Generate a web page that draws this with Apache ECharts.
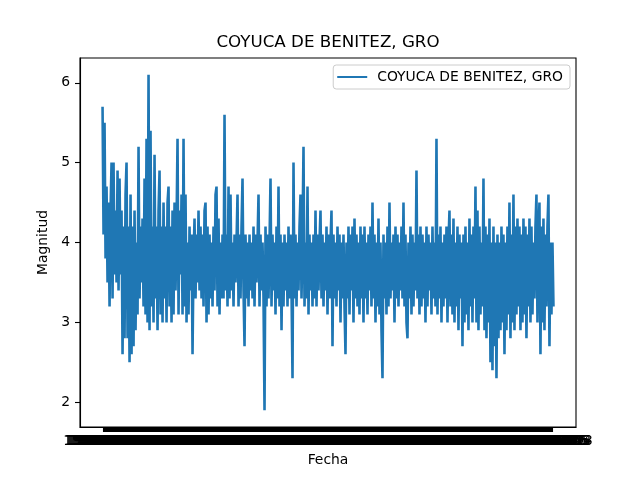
<!DOCTYPE html>
<html>
<head>
<meta charset="utf-8">
<script src="https://cdn.jsdelivr.net/npm/echarts@6/dist/echarts.min.js"></script>
<style>
  html, body { margin: 0; padding: 0; background: #fff; }
  #chart { width: 640px; height: 480px; }
</style>
</head>
<body>
<div id="chart"></div>
<script>
const titulo = 'COYUCA DE BENITEZ, GRO';

// magnitudes, en orden de fecha
const magnitudes = [
  5.7,4.1,5.5,3.8,4.7,3.5,4.5,3.2,4.4,5.0,3.3,5.0,3.6,4.4,3.5,4.9,3.4,4.8,3.6,4.4,
  2.6,4.2,2.8,4.6,5.0,2.8,4.2,2.5,4.6,2.6,4.2,2.7,4.4,2.9,4.0,3.1,5.2,3.3,4.2,3.5,
  4.3,3.2,4.8,3.1,5.3,3.0,6.1,2.9,5.4,3.2,4.2,3.0,5.1,3.3,4.2,2.9,4.4,4.9,3.1,4.2,
  3.0,4.5,3.3,4.2,3.0,4.5,4.7,3.2,4.2,3.0,4.4,3.1,4.5,3.4,4.2,5.3,3.1,4.4,3.6,4.6,
  3.1,5.3,3.2,4.6,3.0,4.0,3.1,4.2,3.4,4.1,2.6,3.8,4.3,3.3,4.1,3.5,4.4,3.4,4.2,3.3,
  4.1,3.2,4.4,4.5,3.0,4.2,3.1,4.1,3.3,4.0,3.2,4.2,3.4,4.6,4.7,3.2,4.3,3.1,4.0,3.3,
  4.1,3.3,5.6,3.4,4.1,3.2,4.7,3.3,4.6,3.4,4.0,3.2,4.1,3.5,4.0,4.6,3.2,4.1,3.3,4.2,
  4.8,3.4,2.7,4.1,3.3,4.0,3.2,4.1,3.4,4.0,3.3,4.2,3.2,4.1,3.5,4.0,4.6,3.2,4.1,3.4,
  4.0,3.3,1.9,4.2,3.2,4.1,3.3,4.0,4.8,3.2,4.1,3.4,4.0,3.1,4.2,3.3,4.7,3.2,4.1,2.9,
  4.0,3.2,4.1,3.4,4.0,3.2,4.2,3.3,4.1,3.4,2.3,5.0,3.3,4.1,3.2,4.0,3.4,4.2,4.6,3.3,
  4.1,5.2,3.2,4.0,3.3,4.7,3.1,4.1,3.4,4.0,3.2,4.1,3.3,4.4,3.2,4.1,3.4,4.0,4.4,3.3,
  4.1,3.2,4.0,3.4,4.2,3.1,4.1,3.3,4.0,4.4,2.7,4.1,3.3,4.0,3.2,4.2,3.4,4.1,3.0,4.0,
  3.3,4.1,3.2,2.6,4.0,3.3,4.2,3.1,4.1,3.4,4.2,3.0,4.3,3.3,4.1,3.2,4.0,3.1,4.2,3.3,
  4.1,3.0,4.2,3.3,4.0,3.1,4.1,3.4,4.2,3.2,4.5,3.3,4.1,3.0,4.0,3.2,4.3,3.1,4.0,2.9,
  2.3,4.1,3.3,4.0,3.1,4.2,3.2,4.5,3.3,4.0,3.4,4.1,3.0,4.2,3.3,4.1,3.2,4.0,3.4,4.2,
  3.3,4.5,3.2,4.1,3.0,2.8,4.0,3.3,4.2,3.1,4.1,3.2,4.0,3.4,4.9,3.3,4.1,3.1,4.2,3.2,
  4.1,3.3,4.0,3.0,4.2,3.2,4.1,3.4,4.0,3.1,4.2,3.3,4.0,3.2,5.3,3.1,4.1,3.3,4.2,3.0,
  4.0,3.2,4.1,3.3,4.2,3.0,4.0,4.4,3.2,4.1,3.1,4.3,3.0,4.0,3.2,4.2,2.9,4.1,3.3,4.0,
  2.7,4.1,3.0,4.2,3.1,4.0,2.9,4.3,3.2,4.1,3.0,4.2,3.3,4.7,3.0,4.4,2.9,4.2,3.1,4.0,
  3.2,4.8,2.9,4.2,2.8,4.1,3.0,4.3,2.5,4.0,2.4,4.2,2.7,4.0,2.3,4.1,2.8,4.0,2.9,4.2,
  3.0,4.1,2.6,4.0,2.9,4.2,3.1,4.5,2.8,4.1,3.0,4.6,2.9,4.2,3.1,4.3,3.2,4.2,2.9,4.1,
  3.0,4.3,3.1,4.2,2.8,4.1,3.2,4.3,3.0,4.2,3.1,4.0,3.3,4.2,4.6,3.0,4.1,4.5,2.6,4.2,
  3.0,4.3,2.9,4.1,3.2,4.2,4.6,2.7,4.0,3.1,4.0,3.2
];

// etiquetas de fecha (ilegibles en la figura, se enciman todas)
const fechaInicio = '1998-01-12';
const pasoDias = 20;
const fechas = magnitudes.map((_, i) => {
  const d = new Date(fechaInicio + 'T00:00:00Z');
  d.setUTCDate(d.getUTCDate() + i * pasoDias);
  return d.toISOString().slice(0, 10);
});

const ticksY = [2, 3, 4, 5, 6];

const n = magnitudes.length;
const indices = magnitudes.map((_, i) => i);
const margenX = 0.05 * (n - 1);
const margenY = 0.05 * (6.1 - 1.9);

const chart = echarts.init(document.getElementById('chart'));
const fuente = 'DejaVu Sans';

chart.setOption({
  animation: false,
  backgroundColor: '#fff',
  title: {
    text: titulo,
    left: 328,
    top: 34,
    padding: 0,
    textAlign: 'center',
    textStyle: { fontFamily: fuente, fontSize: 16.7, fontWeight: 'normal', color: '#000' }
  },
  legend: {
    right: 70,
    top: 65,
    padding: [5, 7, 5, 4],
    icon: 'rect',
    itemWidth: 30,
    itemHeight: 2,
    borderColor: '#cccccc',
    borderWidth: 1,
    borderRadius: 3,
    backgroundColor: 'rgba(255,255,255,0.8)',
    textStyle: { fontFamily: fuente, fontSize: 13.9, color: '#000', padding: [0, 0, 0, 5] },
    data: [titulo]
  },
  grid: {
    left: 80, right: 64, top: 58, bottom: 53,
    show: true, borderColor: '#000', borderWidth: 1.1
  },
  xAxis: {
    type: 'value',
    min: -margenX,
    max: n - 1 + margenX,
    name: 'Fecha',
    nameLocation: 'middle',
    nameGap: 26,
    nameTextStyle: { fontFamily: fuente, fontSize: 13.9, color: '#000' },
    axisLine: { show: true, onZero: false, lineStyle: { color: '#000', width: 1.1 } },
    axisTick: { show: true, length: 5, customValues: indices, lineStyle: { color: '#000', width: 1.1 } },
    axisLabel: {
      customValues: indices,
      margin: 7,
      fontFamily: fuente, fontSize: 13.9, color: '#000',
      formatter: v => fechas[Math.round(v)]
    },
    splitLine: { show: false }
  },
  yAxis: {
    type: 'value',
    min: 1.9 - margenY,
    max: 6.1 + margenY,
    name: 'Magnitud',
    nameLocation: 'middle',
    nameGap: 25,
    nameTextStyle: { fontFamily: fuente, fontSize: 13.9, color: '#000' },
    axisLine: { show: true, onZero: false, lineStyle: { color: '#000', width: 1.1 } },
    axisTick: { show: true, length: 5, customValues: ticksY, lineStyle: { color: '#000', width: 1.1 } },
    axisLabel: {
      customValues: ticksY,
      margin: 10,
      fontFamily: fuente, fontSize: 13.9, color: '#000'
    },
    splitLine: { show: false }
  },
  series: [{
    name: titulo,
    type: 'line',
    data: magnitudes.map((m, i) => [i, m]),
    showSymbol: false,
    symbol: 'none',
    itemStyle: { color: '#1f77b4' },
    lineStyle: { color: '#1f77b4', width: 2.6 }
  }]
});
</script>
</body>
</html>
